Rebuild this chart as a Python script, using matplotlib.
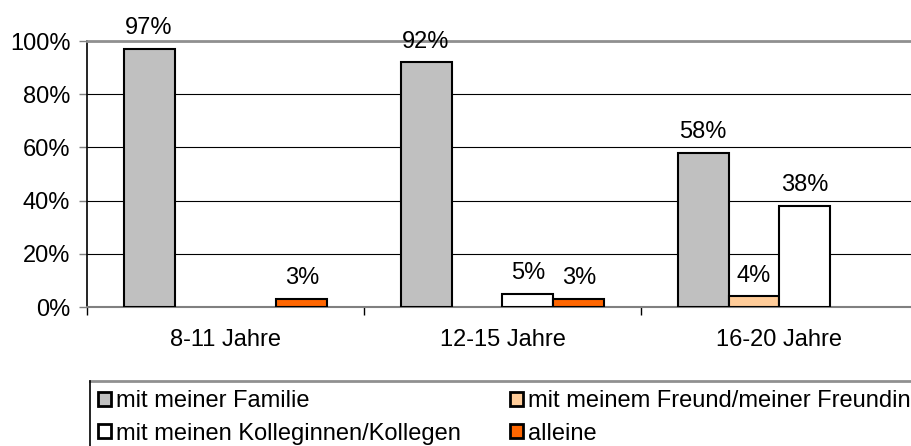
import matplotlib.pyplot as plt
from matplotlib.patches import Patch
import numpy as np

plt.rcParams['font.family'] = ['Liberation Sans', 'DejaVu Sans']

categories = ['8-11 Jahre', '12-15 Jahre', '16-20 Jahre']
series = ['mit meiner Familie', 'mit meinem Freund/meiner Freundin',
          'mit meinen Kolleginnen/Kollegen', 'alleine']
values = [
    [97, 92, 58],   # Familie
    [0, 0, 4],      # Freund/Freundin
    [0, 5, 38],     # Kolleginnen/Kollegen
    [3, 3, 0],      # alleine
]
colors = ['#C0C0C0', '#FFCC99', '#FFFFFF', '#FF6600']

fig = plt.figure(figsize=(9.12, 4.46), dpi=100)
ax = fig.add_axes([87/912, 139/446, 831/912, 266/446])

x = np.arange(len(categories))
w = 0.184
for i, (vals, col) in enumerate(zip(values, colors)):
    pos = x + (i - 1.5) * w
    for p, v in zip(pos, vals):
        if v == 0:
            continue
        ax.bar(p, v, w, color=col, edgecolor='black', linewidth=1.5, zorder=3)
        ax.annotate(f'{v}%', (p, v), xytext=(0, 7), textcoords='offset points',
                    ha='center', va='bottom', fontsize=17)

ax.set_xlim(-0.5, 2.5)
ax.set_ylim(0, 100)
ax.set_yticks([0, 20, 40, 60, 80, 100])
ax.set_yticklabels([f'{t}%' for t in [0, 20, 40, 60, 80, 100]], fontsize=17)
ax.yaxis.grid(True, color='black', linewidth=0.8, zorder=0)
ax.set_axisbelow(True)
ax.tick_params(axis='y', length=6, width=1, color='#808080', pad=6)

ax.set_xticks(x)
ax.set_xticklabels(categories, fontsize=17)
ax.tick_params(axis='x', length=0, pad=16)
ax.set_xticks([-0.5, 0.5, 1.5, 2.5], minor=True)
ax.tick_params(axis='x', which='minor', length=6, width=1, color='black')

ax.spines['left'].set_color('black')
ax.spines['left'].set_linewidth(1.2)
ax.spines['bottom'].set_color('#808080')
ax.spines['bottom'].set_linewidth(1.5)
ax.spines['top'].set_color('#909090')
ax.spines['top'].set_linewidth(2)
ax.spines['right'].set_visible(False)

# legend box (only top and left edges are visible in the crop)
fig.add_artist(plt.Line2D([90/912, 1.0], [1 - 381/446, 1 - 381/446],
                          color='#909090', linewidth=2, transform=fig.transFigure))
fig.add_artist(plt.Line2D([90/912, 90/912], [1 - 381/446, 0],
                          color='black', linewidth=1.2, transform=fig.transFigure))

handles = [Patch(facecolor=c, edgecolor='black', linewidth=2) for c in colors]
order = [0, 2, 1, 3]
fig.legend([handles[i] for i in order], [series[i] for i in order],
           ncol=2, loc='upper left', bbox_to_anchor=(98/912, 1 - 390/446),
           frameon=False, fontsize=17, handlelength=0.55, handleheight=0.55,
           handletextpad=0.2, columnspacing=2.1, labelspacing=0.45,
           borderpad=0, borderaxespad=0)

fig.savefig('out.png', dpi=100)
